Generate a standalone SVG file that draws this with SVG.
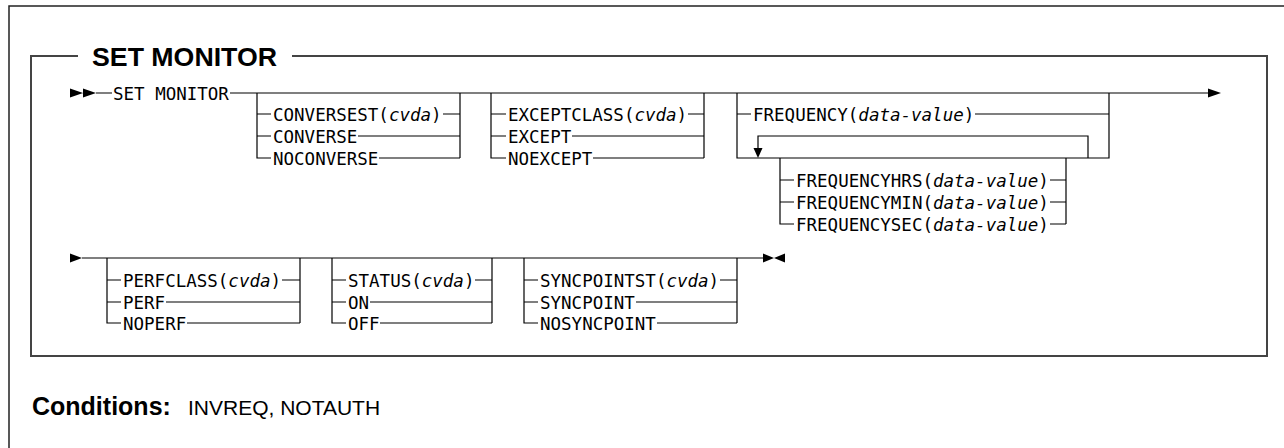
<svg xmlns="http://www.w3.org/2000/svg" width="1284" height="448" viewBox="0 0 1284 448">
<style>
.rr{font-family:"DejaVu Sans Mono","Liberation Mono",monospace;font-size:17.5px;fill:#000}
.it{font-style:italic}
.ln{fill:none;stroke:#000;stroke-width:1.2}
.ttl{font-family:"Liberation Sans",Arial,sans-serif;font-weight:bold;font-size:25px;fill:#000}
.cond{font-family:"Liberation Sans",Arial,sans-serif;font-size:21px;fill:#000}
.box{fill:none;stroke:#444;stroke-width:2}
.frame{fill:none;stroke:#222;stroke-width:1.5}
.ah{fill:#000}
</style>
<rect width="1284" height="448" fill="#fff"/>
<g id="frame">
<path class="frame" d="M9,448 V6 H1284"/>
<path class="box" d="M78,56 H31 V356 H1267 V56 H292"/>
<text class="ttl" x="92" y="66" textLength="185" lengthAdjust="spacingAndGlyphs">SET MONITOR</text>
</g>
<g id="connectors">
<path class="ah" d="M70,88.5 L83,93 L70,97.5 Z M83,88.5 L96,93 L83,97.5 Z"/>
<path class="ln" d="M96,93 H112 M230,93 H1208"/>
<path class="ah" d="M1208,88.5 L1221,93 L1208,97.5 Z"/>
<path class="ah" d="M70,253.5 L82,258 L70,262.5 Z"/>
<path class="ln" d="M82,258 H763"/>
<path class="ah" d="M763,253.5 L774,258 L763,262.5 Z M785,253.5 L774,258 L785,262.5 Z"/>
</g>
<g id="start">
<text class="rr" x="113" y="99.5">SET MONITOR</text>
</g>
<g id="group-converse">
<path class="ln" d="M257,93 V158 H271 M257,114 H271 M257,136 H271 M443,114 H460 M358,136 H460 M379,158 H460 M460,93 V158"/>
<text class="rr" x="273" y="120.5">CONVERSEST(<tspan class="it">cvda</tspan>)</text>
<text class="rr" x="273" y="142.5">CONVERSE</text>
<text class="rr" x="273" y="164.5">NOCONVERSE</text>
</g>
<g id="group-except">
<path class="ln" d="M491,93 V158 H506 M491,114 H506 M491,136 H506 M688,114 H704 M572,136 H704 M593,158 H704 M704,93 V158"/>
<text class="rr" x="508" y="120.5">EXCEPTCLASS(<tspan class="it">cvda</tspan>)</text>
<text class="rr" x="508" y="142.5">EXCEPT</text>
<text class="rr" x="508" y="164.5">NOEXCEPT</text>
</g>
<g id="group-frequency">
<path class="ln" d="M737,93 V158 H1109 V93 M737,114 H751 M975,114 H1109 M1088,158 V136 H758 V149"/>
<path class="ah" d="M753.5,148 L762.5,148 L758,158 Z"/>
<text class="rr" x="753" y="120.5">FREQUENCY(<tspan class="it">data-value</tspan>)</text>
<path class="ln" d="M780,158 V224 H794 M780,180 H794 M780,202 H794 M1050,180 H1066 M1050,202 H1066 M1050,224 H1066 M1066,158 V224"/>
<text class="rr" x="796" y="186.5">FREQUENCYHRS(<tspan class="it">data-value</tspan>)</text>
<text class="rr" x="796" y="208.5">FREQUENCYMIN(<tspan class="it">data-value</tspan>)</text>
<text class="rr" x="796" y="230.5">FREQUENCYSEC(<tspan class="it">data-value</tspan>)</text>
</g>
<g id="group-perf">
<path class="ln" d="M107,258 V323 H121 M107,280 H121 M107,302 H121 M282,280 H300 M166,302 H300 M187,323 H300 M300,258 V323"/>
<text class="rr" x="123" y="286.5">PERFCLASS(<tspan class="it">cvda</tspan>)</text>
<text class="rr" x="123" y="308.5">PERF</text>
<text class="rr" x="123" y="329.5">NOPERF</text>
</g>
<g id="group-status">
<path class="ln" d="M332,258 V323 H346 M332,280 H346 M332,302 H346 M475,280 H492 M370,302 H492 M380,323 H492 M492,258 V323"/>
<text class="rr" x="348" y="286.5">STATUS(<tspan class="it">cvda</tspan>)</text>
<text class="rr" x="348" y="308.5">ON</text>
<text class="rr" x="348" y="329.5">OFF</text>
</g>
<g id="group-syncpoint">
<path class="ln" d="M524,258 V323 H538 M524,280 H538 M524,302 H538 M720,280 H737 M636,302 H737 M657,323 H737 M737,258 V323"/>
<text class="rr" x="540" y="286.5">SYNCPOINTST(<tspan class="it">cvda</tspan>)</text>
<text class="rr" x="540" y="308.5">SYNCPOINT</text>
<text class="rr" x="540" y="329.5">NOSYNCPOINT</text>
</g>
<g id="conditions">
<text class="ttl" x="32" y="415">Conditions:</text>
<text class="cond" x="188" y="415">INVREQ, NOTAUTH</text>
</g>
</svg>
